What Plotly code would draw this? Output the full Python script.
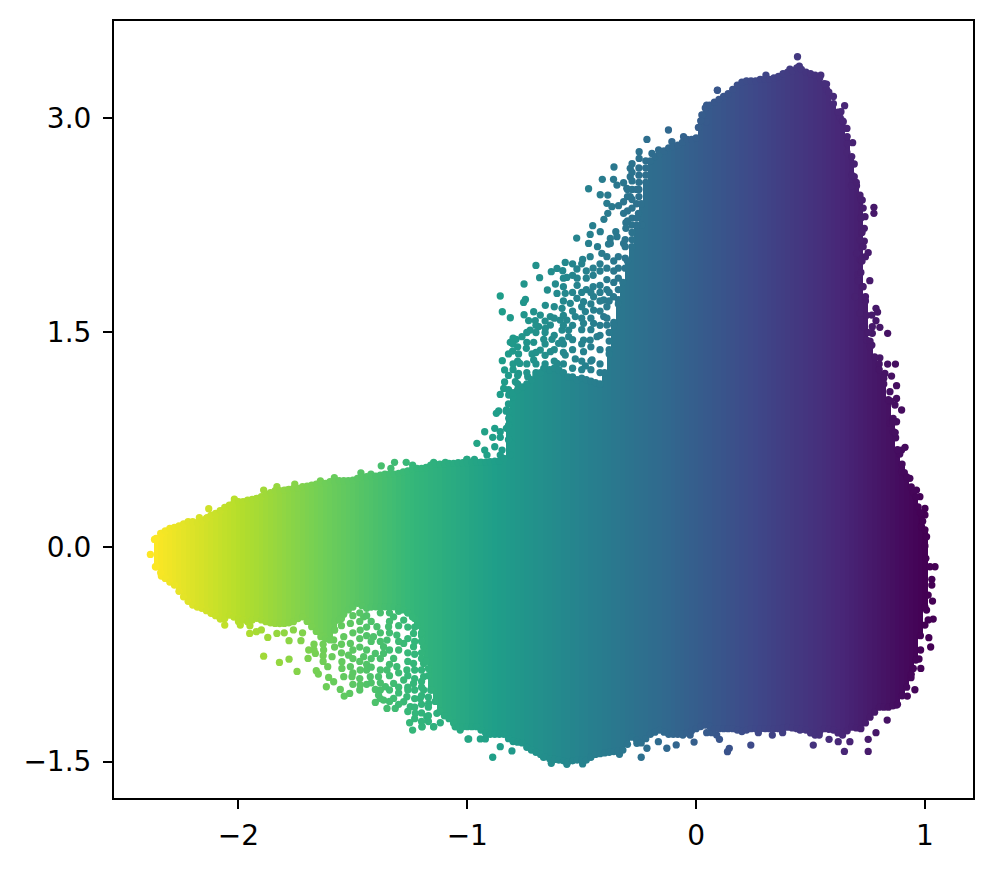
import plotly.graph_objects as go

# Dense body of the cloud: for each x column, the lower and upper y
col_x = [-2.36,-2.32,-2.28,-2.24,-2.20,-2.16,-2.12,-2.08,-2.04,-2.00,-1.96,-1.92,-1.88,-1.84,-1.80,-1.76,-1.72,
         -1.68,-1.64,-1.60,-1.56,-1.52,-1.48,-1.44,-1.40,-1.36,-1.32,-1.28,-1.24,-1.20,-1.16,-1.12,-1.08,-1.04,-1.00,
         -0.96,-0.92,-0.88,-0.84,-0.80,-0.76,-0.72,-0.68,-0.64,-0.60,-0.56,-0.52,-0.48,-0.44,-0.40,-0.36,-0.32,-0.28,
         -0.24,-0.20,-0.16,-0.12,-0.08,-0.04,0.00,0.04,0.08,0.12,0.16,0.20,0.24,0.28,0.32,0.36,0.40,0.44,0.48,0.52,
         0.56,0.60,0.64,0.68,0.72,0.76,0.80,0.84,0.88,0.92,0.96,1.00]
col_top = [0.06,0.112,0.137,0.161,0.177,0.184,0.223,0.254,0.293,0.317,0.328,0.340,0.368,0.394,0.398,0.41,0.422,
           0.433,0.445,0.457,0.464,0.464,0.48,0.492,0.496,0.51,0.51,0.526,0.543,0.55,0.573,0.58,0.585,0.589,0.589,
           0.594,0.594,0.60,0.62,1.08,1.12,1.17,1.22,1.24,1.24,1.19,1.17,1.17,1.15,1.22,1.55,1.85,2.10,
           2.40,2.70,2.75,2.79,2.81,2.85,2.86,3.07,3.11,3.15,3.20,3.25,3.26,3.27,3.27,3.29,3.32,3.35,3.32,3.30,
           3.24,3.10,2.98,2.73,2.43,1.40,1.24,1.03,0.68,0.49,0.35,0.12]
col_bottom = [-0.138,-0.22,-0.266,-0.348,-0.406,-0.429,-0.464,-0.499,-0.476,-0.499,-0.522,-0.499,-0.522,-0.534,-0.534,-0.522,-0.488,
              -0.557,-0.627,-0.65,-0.51,-0.44,-0.394,-0.429,-0.418,-0.418,-0.418,-0.44,-0.488,-0.6,-1.0,-1.15,-1.2,-1.256,-1.256,
              -1.256,-1.30,-1.31,-1.31,-1.36,-1.37,-1.42,-1.45,-1.48,-1.49,-1.50,-1.49,-1.49,-1.45,-1.44,-1.43,-1.42,-1.33,
              -1.37,-1.31,-1.28,-1.31,-1.31,-1.30,-1.27,-1.245,-1.27,-1.27,-1.27,-1.29,-1.27,-1.27,-1.27,-1.27,-1.26,-1.27,-1.28,-1.315,
              -1.27,-1.28,-1.315,-1.26,-1.27,-1.19,-1.12,-1.12,-1.10,-0.98,-0.79,-0.42]

# Second reading of the edges, between the columns above
mid_x = [-2.34,-2.30,-2.26,-2.22,-2.18,-2.14,-2.10,-2.06,-2.02,-1.98,-1.94,-1.90,-1.86,-1.82,-1.78,-1.74,-1.70,
         -1.66,-1.62,-1.58,-1.54,-1.50,-1.46,-1.42,-1.38,-1.34,-1.30,-1.26,-1.22,-1.18,-1.14,-1.10,-1.06,-1.02,
         -0.98,-0.94,-0.90,-0.86,-0.82,-0.78,-0.74,-0.70,-0.66,-0.62,-0.58,-0.54,-0.50,-0.46,-0.42,-0.38,-0.34,-0.30,
         -0.26,-0.22,-0.18,-0.14,-0.10,-0.06,-0.02,0.02,0.06,0.10,0.14,0.18,0.22,0.26,0.30,0.34,0.38,0.42,0.46,0.50,
         0.54,0.58,0.62,0.66,0.70,0.74,0.78,0.82,0.86,0.90,0.94,0.98]
mid_top = [0.095,0.13,0.147,0.177,0.17,0.20,0.235,0.277,0.31,0.317,0.333,0.352,0.38,0.394,0.403,0.41,0.426,
           0.44,0.445,0.457,0.464,0.468,0.492,0.492,0.503,0.51,0.515,0.533,0.55,0.556,0.58,0.58,0.585,0.589,
           0.592,0.594,0.597,0.60,0.95,1.10,1.14,1.20,1.25,1.25,1.22,1.19,1.18,1.16,1.14,1.35,1.70,2.00,
           2.25,2.55,2.73,2.77,2.80,2.83,2.85,2.98,3.09,3.13,3.17,3.23,3.26,3.26,3.27,3.28,3.31,3.33,3.34,3.31,
           3.28,3.18,3.04,2.87,2.55,1.75,1.33,1.14,0.87,0.58,0.42,0.24]
mid_bottom = [-0.18,-0.245,-0.31,-0.38,-0.42,-0.445,-0.48,-0.50,-0.49,-0.51,-0.51,-0.51,-0.53,-0.535,-0.53,-0.50,-0.52,
              -0.59,-0.64,-0.58,-0.47,-0.42,-0.41,-0.42,-0.42,-0.42,-0.43,-0.46,-0.55,-0.8,-1.08,-1.18,-1.23,-1.256,
              -1.256,-1.28,-1.31,-1.31,-1.34,-1.365,-1.40,-1.435,-1.465,-1.485,-1.495,-1.495,-1.49,-1.47,-1.445,-1.435,-1.425,-1.38,
              -1.35,-1.34,-1.295,-1.295,-1.31,-1.305,-1.285,-1.255,-1.255,-1.27,-1.27,-1.28,-1.28,-1.27,-1.27,-1.27,-1.265,-1.265,-1.275,-1.30,
              -1.29,-1.275,-1.30,-1.285,-1.265,-1.23,-1.155,-1.12,-1.11,-1.04,-0.89,-0.62]

# Individual points, by region (x, y)
right_pts = [(1.044,-0.138),(1.022,-0.138),(1.03,-0.226),(1.03,-0.266),(1.014,-0.336),(1.033,-0.378),(1.007,-0.441),
             (1.036,-0.504),(1.014,-0.51),(1.0,-0.546),(1.017,-0.634),(1.025,-0.699),(0.981,-0.72),(0.974,-0.783),
             (0.982,-0.849),(0.949,-0.849),(0.939,-0.914),(0.956,-0.998),(0.923,-1.042),(0.876,-1.105),(0.835,-1.21),
             (0.786,-1.298),(0.752,-1.345),(0.752,-1.429),(0.648,-1.429),(0.672,-1.361),(0.621,-1.361),(0.581,-1.345),
             (0.512,-1.385),(0.239,-1.385),(0.145,-1.408),(0.137,-1.431),(0.102,-1.345),(0.09,-1.315),(0.068,-1.298),
             (0.046,-1.298),(-0.009,-1.364),(-0.026,-1.315),(-0.058,-1.315),(0.272,-1.298),(0.333,-1.315),(0.378,-1.298),
             (0.454,-1.28),(0.538,-1.315),(1.0,0.27),(1.0,0.224),(0.978,0.352),(0.963,0.398),(0.934,0.48),(0.898,0.527),
             (0.985,0.142),(1.007,0.072),(1.0,0.007),(1.004,-0.079),(0.913,0.697),(0.898,0.678),(0.872,0.764),(0.862,0.806),
             (0.876,0.876),(0.847,0.865)]
upper_right_pts = [(0.898,0.958),(0.876,1.128),(0.876,1.039),(0.869,0.993),(0.854,1.195),(0.871,1.279),(0.837,1.279),
                   (0.803,1.323),(0.825,1.214),(0.847,1.086),(0.861,0.899),(0.837,1.494),(0.803,1.536),(0.786,1.669),
                   (0.793,1.643),(0.768,1.622),(0.786,1.582),(0.77,1.494),(0.77,1.54),(0.768,1.412),(0.759,1.862),
                   (0.727,1.82),(0.708,1.902),(0.708,1.862),(0.752,2.058),(0.74,2.03),(0.717,2.011),(0.735,2.139),
                   (0.777,2.375),(0.777,2.333),(0.735,2.228),(0.738,2.31),(0.726,2.426),(0.701,2.526),(0.679,2.526),
                   (0.691,2.589),(0.691,2.678),(0.684,2.827),(0.659,2.759),(0.659,2.927),(0.649,3.086),(0.633,3.044),
                   (0.643,2.974),(0.57,3.237),(0.545,3.3),(0.443,3.428),(0.451,3.363),(0.41,3.342),(0.305,3.3),
                   (0.093,3.193),(0.046,3.09),(0.029,3.02),(0.73,2.37),(0.716,2.461),(0.716,2.146),(0.701,2.053),
                   (0.694,1.75),(0.716,1.634),(0.73,1.54),(0.745,1.447),
                   (0.72,2.3),(0.725,2.2),(0.73,2.1),(0.725,2.0),(0.72,1.92),(0.73,1.82),(0.74,1.72),(0.745,1.62),(0.75,1.5),
                   (0.76,1.44),(0.68,2.6),(0.66,2.82),(0.63,3.0),(0.6,3.15),(0.57,3.2),(0.8,1.28),(0.82,1.18),(0.85,1.02),
                   (0.87,0.8),(0.89,0.65),(0.91,0.52),(0.95,0.38),(0.97,0.28),(0.99,0.18)]
shoulder_pts = [(0.093,3.195),(-0.121,2.916),(-0.215,2.85),(-0.249,2.764),(-0.359,2.657),(-0.410,2.571),(-0.470,2.505),
                (-0.419,2.463),(-0.361,2.571),(-0.346,2.531),(-0.317,2.547),(-0.386,2.461),(-0.390,2.403),(-0.368,2.38),
                (-0.339,2.387),(-0.317,2.414),(-0.317,2.333),(-0.386,2.333),(-0.403,2.291),(-0.452,2.247),(-0.463,2.186),
                (-0.419,2.205),(-0.522,2.16),(-0.470,2.123),(-0.431,2.1),(-0.375,2.158),(-0.351,2.205),(-0.383,2.118),
                (-0.572,1.99),(-0.496,2.011),(-0.463,2.03),(-0.412,2.053),(-0.700,1.969),(-0.633,1.925),(-0.608,1.948),
                (-0.583,1.932),(-0.684,1.883),(-0.565,1.885),(-0.521,1.944),(-0.752,1.839),(-0.615,1.839),(-0.65,1.797),
                (-0.856,1.755),(-0.746,1.731),(-0.754,1.71),(-0.608,1.773),(-0.847,1.645),(-0.812,1.603),(-0.752,1.624),
                (-0.659,1.69),(-0.71,1.645),(0.047,3.079),(0.025,3.021),(0.01,2.934),(0.044,2.974),(-0.055,2.869),
                (-0.106,2.834),(-0.164,2.776),(-0.193,2.752),(-0.249,2.717),(-0.288,2.648),(-0.288,2.589),(-0.303,2.508),
                (-0.288,2.449),(-0.252,2.333),(-0.307,2.268),(-0.307,2.228),(-0.281,2.251),(-0.237,2.251),(-0.346,2.17),
                (-0.375,2.123),(-0.317,2.123)]
cluster_pts = [(-0.732,1.583),(-0.703,1.583),(-0.681,1.622),(-0.688,1.541),(-0.659,1.529),(-0.637,1.552),(-0.637,1.611),
               (-0.725,1.517),(-0.586,1.669),(-0.594,1.587),(-0.565,1.587),(-0.528,1.611),(-0.55,1.704),(-0.572,1.774),
               (-0.521,1.739),(-0.492,1.715),(-0.448,1.75),(-0.404,1.727),(-0.361,1.75),(-0.448,1.657),(-0.484,1.646),
               (-0.492,1.564),(-0.448,1.564),(-0.404,1.611),(-0.39,1.552),(-0.433,1.471),(-0.463,1.447),(-0.492,1.447),
               (-0.557,1.517),(-0.586,1.517),(-0.586,1.447),(-0.557,1.471),(-0.812,1.431),(-0.787,1.452),(-0.761,1.471),
               (-0.71,1.431),(-0.666,1.452),(-0.63,1.452),(-0.601,1.424),(-0.802,1.37),(-0.776,1.35),(-0.742,1.389),
               (-0.717,1.35),(-0.681,1.377),(-0.637,1.366),(-0.572,1.342),(-0.528,1.315),(-0.492,1.366),(-0.455,1.308),
               (-0.484,1.266),(-0.847,1.303),(-0.837,1.238),(-0.771,1.284),(-0.71,1.308),(-0.776,1.214),(-0.736,1.191),
               (-0.666,1.249),(-0.608,1.284),(-0.837,1.154),(-0.79,1.156),(-0.841,1.109),(-0.856,1.067),(-0.819,1.063),
               (-0.863,0.951),(-0.873,0.935),(-0.829,0.958),(-0.819,0.9),(-0.88,0.83),(-0.924,0.806),(-0.856,0.806),
               (-0.889,0.767),(-0.856,0.767),(-0.829,0.83),(-0.805,0.725),(-0.958,0.725),(-0.88,0.701),(-0.924,0.678),
               (-0.848,0.678),(-1.001,0.613),(-0.969,0.613),(-0.914,0.643),(-0.856,0.643),(-0.812,0.643),
               (-0.34,1.73),(-0.34,1.80),(-0.34,1.88),(-0.34,1.95),(-0.34,2.03),
               (-0.31,1.95),(-0.31,2.02),(-0.31,2.10),(-0.31,2.15),
               (-0.36,1.57),(-0.36,1.85),(-0.36,1.93),(-0.36,2.00),
               (-0.39,1.60),(-0.39,1.68),(-0.39,1.80),(-0.39,1.87),(-0.39,1.95),(-0.39,2.03),
               (-0.42,1.65),(-0.42,1.72),(-0.42,1.83),(-0.42,1.93),(-0.42,1.98),
               (-0.45,1.82),(-0.45,1.90),(-0.45,1.95),(-0.48,1.80),(-0.48,1.88),(-0.48,1.93),(-0.52,1.83),(-0.52,1.88),
               (-0.28,2.15),(-0.28,2.20),(-0.28,2.30),(-0.28,2.37),(-0.28,2.43),(-0.28,2.50),(-0.28,2.56),(-0.28,2.62),(-0.28,2.68),
               (-0.25,2.45),(-0.25,2.50),(-0.25,2.55),(-0.25,2.60),(-0.25,2.65),(-0.30,2.28),(-0.30,2.35),(-0.30,2.45),(-0.30,2.50),
               (-0.82,1.0),(-0.82,1.1),(-0.82,1.2),(-0.82,1.35),(-0.80,1.24),(-0.80,1.28),(-0.80,1.42),(-0.80,1.46),
               (-0.78,1.14),(-0.78,1.2),(-0.78,1.3),(-0.78,1.4),(-0.74,1.22),(-0.74,1.28),(-0.74,1.43),(-0.74,1.5),
               (-0.70,1.22),(-0.70,1.28),(-0.70,1.36),(-0.70,1.5),(-0.70,1.55),(-0.66,1.28),(-0.66,1.34),(-0.66,1.42),(-0.66,1.5),(-0.66,1.58),
               (-0.62,1.3),(-0.62,1.38),(-0.62,1.48),(-0.62,1.6),(-0.62,1.68),
               (-0.58,1.28),(-0.58,1.36),(-0.58,1.42),(-0.58,1.55),(-0.58,1.62),(-0.58,1.72),(-0.58,1.82),(-0.58,1.88),
               (-0.54,1.25),(-0.54,1.38),(-0.54,1.45),(-0.54,1.55),(-0.54,1.65),(-0.54,1.78),(-0.54,1.9),(-0.54,1.98),
               (-0.50,1.24),(-0.50,1.3),(-0.50,1.42),(-0.50,1.52),(-0.50,1.6),(-0.50,1.68),(-0.50,1.78),(-0.50,1.98),
               (-0.46,1.24),(-0.46,1.3),(-0.46,1.4),(-0.46,1.52),(-0.46,1.6),(-0.46,1.7),(-0.46,1.78),
               (-0.42,1.22),(-0.42,1.28),(-0.42,1.38),(-0.42,1.48),(-0.42,1.55),(-0.42,1.78),
               (-0.38,1.38),(-0.38,1.44),(-0.38,1.5),(-0.38,1.72),(-0.38,1.78),
               (-0.26,2.3),(-0.26,2.4),(-0.26,2.5),
               (-0.22,2.6),(-0.22,2.65),(-0.22,2.7),(-0.82,0.75),(-0.82,0.85),(-0.83,0.95),(-0.80,1.05)]
lower_left_pts = [(-1.89,-0.763),(-1.821,-0.807),(-1.779,-0.784),(-1.744,-0.87),(-1.66,-0.865),(-1.651,-0.888),(-1.616,-0.977),
                  (-1.606,-0.912),(-1.61,-0.837),(-2.06,-0.546),(-2.112,-0.464),(-2.079,-0.504),(-1.992,-0.546),(-1.951,-0.604),
                  (-1.922,-0.592),(-1.872,-0.632),(-1.832,-0.604),(-1.779,-0.655),(-1.727,-0.655),(-1.693,-0.72),(-1.696,-0.779),
                  (-1.664,-0.744),(-1.628,-0.72),(-1.591,-0.767),(-1.548,-0.802),(-1.519,-0.756),(-1.548,-0.849),(-1.511,-0.837),
                  (-1.54,-0.907),(-1.584,-0.942),(-1.555,-0.996),(-1.538,-1.042),(-1.514,-1.024),(-1.468,-0.965),(-1.504,-0.907),
                  (-1.468,-0.86),(-1.424,-0.907),(-1.453,-0.767),(-1.402,-0.744),(-1.511,-0.674),(-1.54,-0.627),(-1.584,-0.65),
                  (-1.468,-0.581),(-1.511,-0.534),(-1.453,-0.488),(-1.41,-0.627),(-1.366,-0.697),(-1.351,-0.651),(-1.395,-0.557),
                  (-1.344,-0.557),(-1.308,-0.616),(-1.322,-0.488),(-1.278,-0.511),(-1.366,-0.744),(-1.322,-0.779),(-1.278,-0.674),
                  (-1.235,-0.604),(-1.235,-0.697),(-1.191,-0.697),(-1.308,-0.837),(-1.264,-0.86),(-1.351,-0.86),(-1.388,-0.907),
                  (-1.358,-0.977),(-1.402,-0.996),(-1.322,-0.954),(-1.278,-0.93),(-1.235,-0.954),(-1.191,-0.907),(-1.235,-0.814),
                  (-1.191,-0.814),(-1.388,-1.035),(-1.402,-1.087),(-1.351,-1.129),(-1.315,-1.129),(-1.366,-1.07),(-1.322,-1.059),
                  (-1.278,-1.082),(-1.249,-1.117),(-1.264,-1.047),(-1.206,-1.059),(-1.169,-1.094),(-1.227,-1.163),(-1.252,-1.229),
                  (-1.239,-1.28),(-1.198,-1.257),(-1.147,-1.257),(-1.118,-1.229),(-1.053,-1.257),(-1.031,-1.28),(-0.997,-1.343),
                  (-1.177,-1.187),(-1.133,-1.163),(-1.191,-1.0),(-1.155,-1.0),
                  (-1.58,-0.52),(-1.58,-0.58),(-1.58,-0.70),(-1.55,-0.50),(-1.55,-0.55),(-1.55,-0.68),(-1.55,-0.74),
                  (-1.50,-0.48),(-1.50,-0.60),(-1.50,-0.72),(-1.50,-0.78),(-1.50,-0.88),(-1.50,-0.96),
                  (-1.47,-0.46),(-1.47,-0.52),(-1.47,-0.64),(-1.47,-0.70),(-1.47,-0.80),(-1.47,-0.92),(-1.47,-1.0),
                  (-1.44,-0.48),(-1.44,-0.56),(-1.44,-0.62),(-1.44,-0.72),(-1.44,-0.82),(-1.44,-0.86),(-1.44,-0.96),
                  (-1.42,-0.52),(-1.42,-0.66),(-1.42,-0.78),(-1.42,-0.84),(-1.42,-0.95),
                  (-1.38,-0.46),(-1.38,-0.60),(-1.38,-0.66),(-1.38,-0.78),(-1.38,-0.86),(-1.38,-0.95),(-1.38,-1.0),(-1.38,-1.06),
                  (-1.34,-0.46),(-1.34,-0.52),(-1.34,-0.60),(-1.34,-0.72),(-1.34,-0.82),(-1.34,-0.90),(-1.34,-1.0),(-1.34,-1.08),
                  (-1.30,-0.45),(-1.30,-0.55),(-1.30,-0.66),(-1.30,-0.72),(-1.30,-0.88),(-1.30,-0.98),(-1.30,-1.02),(-1.30,-1.1),
                  (-1.26,-0.46),(-1.26,-0.56),(-1.26,-0.64),(-1.26,-0.74),(-1.26,-0.80),(-1.26,-0.90),(-1.26,-0.98),(-1.26,-1.0),(-1.26,-1.15),
                  (-1.23,-0.50),(-1.23,-0.56),(-1.23,-0.66),(-1.23,-0.75),(-1.23,-0.86),(-1.23,-0.92),(-1.23,-1.0),(-1.23,-1.06),(-1.23,-1.12),(-1.23,-1.2),
                  (-1.20,-0.62),(-1.20,-0.66),(-1.20,-0.74),(-1.20,-0.78),(-1.20,-0.86),(-1.20,-0.94),(-1.20,-0.98),(-1.20,-1.04),(-1.20,-1.1),(-1.20,-1.16),(-1.20,-1.22),
                  (-1.17,-0.85),(-1.17,-0.9),(-1.17,-1.05),(-1.17,-1.12),(-1.17,-1.18),(-1.17,-1.22),
                  (-1.63,-0.62),(-1.63,-0.68),(-1.63,-0.76),(-1.63,-0.80),(-1.67,-0.68),(-1.67,-0.72),(-1.72,-0.60),
                  (-1.80,-0.60),(-1.76,-0.58),(-1.90,-0.58),(-1.95,-0.55),(-2.0,-0.52)]
bottom_pts = [(-0.889,-1.47),(-0.805,-1.426),(-0.856,-1.396),(-0.994,-1.342),(-0.943,-1.342),(-0.921,-1.342),(-0.633,-1.512),
              (-0.565,-1.519),(-0.496,-1.517),(-0.24,-1.47),(-0.128,-1.407),(-0.087,-1.384),(-0.215,-1.407),(-0.335,-1.449),
              (-0.667,-1.47),(-0.259,-1.372),(-0.165,-1.361),(-1.198,-1.256),(-1.147,-1.256)]
tail_top_pts = [(-2.13,0.268),(-2.171,0.205),(-2.137,0.205),(-2.334,0.095),(-2.018,0.335),(-1.89,0.398),(-1.832,0.422),
                (-1.788,0.398),(-1.754,0.44),(-1.642,0.463),(-1.581,0.485),(-1.465,0.519),(-1.421,0.51),(-1.376,0.568),
                (-1.318,0.592),(-1.334,0.55),(-1.267,0.592),(-1.239,0.573),(-1.147,0.592),(-1.096,0.592),(-1.002,0.613),
                (-2.385,-0.052),(-2.367,0.053),(-2.363,-0.138),(-2.337,-0.203)]

x_ticks = [-2, -1, 0, 1]
y_ticks = [-1.5, 0.0, 1.5, 3.0]

columns = sorted(zip(col_x + mid_x, col_top + mid_top, col_bottom + mid_bottom))
bar_x = [c[0] for c in columns]
bar_top = [c[1] for c in columns]
bar_bottom = [c[2] for c in columns]

all_pts = right_pts + upper_right_pts + shoulder_pts + cluster_pts + lower_left_pts + bottom_pts + tail_top_pts
pt_x = [p[0] for p in all_pts] + bar_x + bar_x
pt_y = [p[1] for p in all_pts] + bar_top + bar_bottom

CMIN, CMAX = -2.37, 1.0

fig = go.Figure()
fig.add_trace(go.Bar(
    x=bar_x, y=[t - b for t, b in zip(bar_top, bar_bottom)], base=bar_bottom, width=0.0225,
    marker=dict(color=bar_x, colorscale="Viridis_r", cmin=CMIN, cmax=CMAX, line=dict(width=0)),
    hoverinfo="skip", showlegend=False,
))
fig.add_trace(go.Scatter(
    x=pt_x, y=pt_y, mode="markers",
    marker=dict(size=7.3, color=pt_x, colorscale="Viridis_r", cmin=CMIN, cmax=CMAX, line=dict(width=0)),
    hoverinfo="skip", showlegend=False,
))
axis = dict(showgrid=False, zeroline=False, showline=True, mirror=True, linecolor="black", linewidth=2,
            ticks="outside", ticklen=9, tickwidth=2, tickcolor="black",
            tickfont=dict(family="DejaVu Sans", size=28, color="black"))
fig.update_layout(
    width=995, height=869, autosize=False, paper_bgcolor="white", plot_bgcolor="white",
    margin=dict(l=113.5, r=22, t=21, b=71, pad=0), barmode="overlay", bargap=0,
    xaxis=dict(range=[-2.544, 1.21], tickvals=x_ticks, tickformat="d", ticklabelstandoff=2, **axis),
    yaxis=dict(range=[-1.755, 3.678], tickvals=y_ticks, tickformat=".1f", ticklabelstandoff=6, **axis),
)
fig.write_html("out.html", config={"displayModeBar": False},
               post_script="document.body.style.margin='0';")
